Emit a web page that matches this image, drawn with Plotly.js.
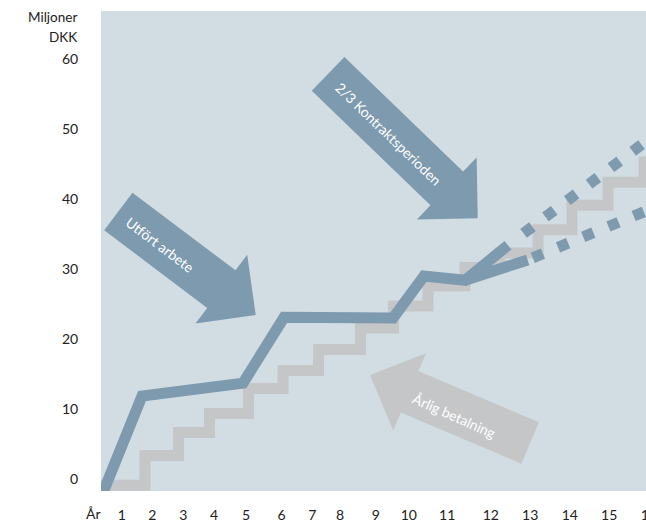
<!DOCTYPE html>
<html>
<head>
<meta charset="utf-8">
<script src="https://cdn.plot.ly/plotly-3.0.1.min.js"></script>
<style>
html,body{margin:0;padding:0;overflow:hidden;background:#ffffff;width:646px;height:522px}
#chart{width:700px;height:522px}
</style>
</head>
<body>
<div id="chart"></div>
<script>
// ---- data ----
const tickPos  = [1.00, 1.87, 2.75, 3.63, 4.54, 5.55, 6.42, 7.21, 8.23, 9.17, 10.26, 11.50, 12.62, 13.75, 14.87, 16.00];
const tickText = ['1','2','3','4','5','6','7','8','9','10','11','12','13','14','15','16'];
const yTickVals = [0, 10, 20, 30, 40, 50, 60];

// Årlig betalning (cumulative payments, staircase)
const payX = [0.30, 1.663, 2.616, 3.498, 4.607, 5.589, 6.599, 7.794, 8.733, 9.714, 10.767, 11.763, 12.844, 13.811, 14.836, 15.860, 17.60];
const payY = [-0.9, 3.36, 6.64, 9.36, 12.93, 15.5, 18.5, 21.57, 24.7, 27.57, 30.2, 32.3, 35.6, 39.1, 42.4, 45.3, 45.3];

// Utfört arbete (work performed)
const workX = [0.383, 1.578, 4.45, 5.62, 8.72, 9.60, 10.77, 11.99];
const workY = [-3.0, 11.86, 13.7, 23.1, 23.0, 29.0, 28.4, 33.4];
const workLowX = [10.77, 12.55];
const workLowY = [28.4, 31.3];

// projections (dotted)
const projHighX = [12.10, 17.60];
const projHighY = [33.83, 54.6];
const projLowX  = [12.55, 17.60];
const projLowY  = [31.3, 41.8];

// ---- styling ----
const BLUE = '#7e9aaf';
const GRAY = '#c5c6c8';
const BG   = '#d1dde2';
const FONT = 'Lato, "Open Sans", sans-serif';

const W = 700, H = 522;
const M = {l: 101, r: 0, t: 11, b: 31};
const xRange = [0.4111, 17.452];
const yRange = [-1.714, 66.857];
const plotW = W - M.l - M.r, plotH = H - M.t - M.b;
const pxX = plotW / (xRange[1] - xRange[0]);
const pxY = plotH / (yRange[1] - yRange[0]);

// arrow built around a tip point (data coords) with pixel geometry
function arrowPath(tipX, tipY, angDeg, len, shaftW, headW, headLen) {
  const a = angDeg * Math.PI / 180;
  const ux = Math.cos(a), uy = Math.sin(a);
  const nx = -Math.sin(a), ny = Math.cos(a);
  const pts = [
    [0, 0],
    [-headLen*ux + headW/2*nx, -headLen*uy + headW/2*ny],
    [-headLen*ux + shaftW/2*nx, -headLen*uy + shaftW/2*ny],
    [-len*ux + shaftW/2*nx, -len*uy + shaftW/2*ny],
    [-len*ux - shaftW/2*nx, -len*uy - shaftW/2*ny],
    [-headLen*ux - shaftW/2*nx, -headLen*uy - shaftW/2*ny],
    [-headLen*ux - headW/2*nx, -headLen*uy - headW/2*ny]
  ];
  return pts.map((p, i) => (i ? 'L' : 'M') + (tipX + p[0]/pxX).toFixed(4) + ',' + (tipY - p[1]/pxY).toFixed(4)).join(' ') + ' Z';
}

const traces = [
  {x: payX, y: payY, type: 'scatter', mode: 'lines', name: 'Årlig betalning',
   line: {shape: 'hv', width: 11, color: GRAY}},
  {x: workX, y: workY, type: 'scatter', mode: 'lines', name: 'Utfört arbete',
   line: {width: 11, color: BLUE}},
  {x: workLowX, y: workLowY, type: 'scatter', mode: 'lines',
   line: {width: 11, color: BLUE}},
  {x: projHighX, y: projHighY, type: 'scatter', mode: 'lines',
   line: {width: 11, color: BLUE, dash: '0px,14.7px,11px,1.6px'}},
  {x: projLowX, y: projLowY, type: 'scatter', mode: 'lines',
   line: {width: 11, color: BLUE, dash: '0px,5.5px,11px,10.8px'}}
];

const shapes = [
  {type: 'path', xref: 'x', yref: 'y', layer: 'below', line: {width: 0}, fillcolor: BLUE,
   path: arrowPath(4.812, 23.43, 37, 172, 47, 86, 43)},
  {type: 'path', xref: 'x', yref: 'y', layer: 'below', line: {width: 0}, fillcolor: BLUE,
   path: arrowPath(11.128, 37.24, 44, 208, 47, 86, 43)},
  {type: 'path', xref: 'x', yref: 'y', layer: 'below', line: {width: 0}, fillcolor: GRAY,
   path: arrowPath(8.064, 14.857, 203, 174, 45, 84, 43)}
];

const txtFont = {family: FONT, size: 14, color: '#ffffff'};
const axFont = {family: FONT, size: 14, color: '#222222'};
const ttlFont = {family: FONT, size: 13.5, color: '#222222'};
const annotations = [
  {x: 2.09, y: 33.57, xref: 'x', yref: 'y', text: 'Utfört arbete', showarrow: false, textangle: 37, font: txtFont},
  {x: 8.576, y: 49.29, xref: 'x', yref: 'y', text: '2/3 Kontraktsperioden', showarrow: false, textangle: 44, font: txtFont},
  {x: 10.454, y: 9.14, xref: 'x', yref: 'y', text: 'Årlig betalning', showarrow: false, textangle: 24, font: txtFont},
  {x: -8/plotW, y: -(513-(H-M.b))/plotH, xref: 'paper', yref: 'paper', text: 'År', showarrow: false,
   xanchor: 'center', yanchor: 'middle', font: axFont},
  {x: -22/plotW, y: ((H-M.b)-17)/plotH, xref: 'paper', yref: 'paper', text: 'Miljoner', showarrow: false,
   xanchor: 'right', yanchor: 'middle', font: ttlFont},
  {x: -22/plotW, y: ((H-M.b)-37)/plotH, xref: 'paper', yref: 'paper', text: 'DKK', showarrow: false,
   xanchor: 'right', yanchor: 'middle', font: ttlFont}
];

const layout = {
  width: W, height: H,
  margin: M,
  paper_bgcolor: '#ffffff',
  plot_bgcolor: BG,
  showlegend: false,
  hovermode: false,
  font: axFont,
  xaxis: {range: xRange, tickmode: 'array', tickvals: tickPos, ticktext: tickText,
          showgrid: false, zeroline: false, showline: false, automargin: false,
          ticks: 'outside', ticklen: 11, tickcolor: 'rgba(0,0,0,0)', tickfont: axFont, fixedrange: true},
  yaxis: {range: yRange, tickmode: 'array', tickvals: yTickVals,
          showgrid: false, zeroline: false, showline: false, automargin: false,
          ticks: 'outside', ticklen: 19, tickcolor: 'rgba(0,0,0,0)', tickfont: axFont, fixedrange: true},
  shapes: shapes,
  annotations: annotations
};

Plotly.newPlot('chart', traces, layout, {displayModeBar: false, staticPlot: true});
</script>
</body>
</html>
